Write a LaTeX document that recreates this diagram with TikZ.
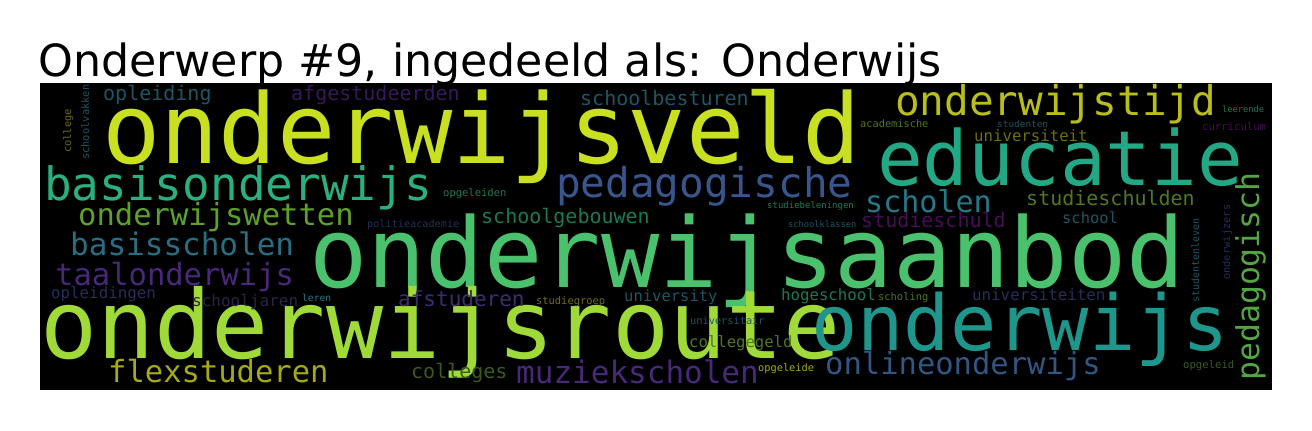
\documentclass[tikz,border=0pt]{standalone}
\usepackage{fontspec}
\setmainfont{DejaVu Sans}
\newfontfamily\cloudfont{DejaVu Sans Mono}
\usepackage{tikz}

% viridis-like word colours
\definecolor{vYellow}{RGB}{200,224,32}
\definecolor{vLime}{RGB}{160,218,57}
\definecolor{vGreen}{RGB}{74,193,109}
\definecolor{vJade}{RGB}{42,176,127}
\definecolor{vSea}{RGB}{34,168,132}
\definecolor{vTeal}{RGB}{31,150,139}
\definecolor{vBlue}{RGB}{57,86,140}
\definecolor{vOlive}{RGB}{185,190,25}
\definecolor{vLeaf}{RGB}{82,165,65}
\definecolor{vPetrol}{RGB}{36,120,135}
\definecolor{vGrass}{RGB}{95,160,40}
\definecolor{vDeep}{RGB}{40,110,130}
\definecolor{vPurple}{RGB}{72,40,120}
\definecolor{vMustard}{RGB}{165,170,20}
\definecolor{vNavy}{RGB}{50,85,130}
\definecolor{vMoss}{RGB}{80,120,30}
\definecolor{vPlum}{RGB}{70,15,85}
\definecolor{vKhaki}{RGB}{110,110,20}
\definecolor{vDusk}{RGB}{30,85,100}
\definecolor{vViolet}{RGB}{55,25,90}
\definecolor{vPine}{RGB}{25,120,90}
\definecolor{vIndigo}{RGB}{60,45,110}
\definecolor{vFern}{RGB}{60,90,30}
\definecolor{vSlate}{RGB}{40,45,90}
\definecolor{vShade}{RGB}{45,35,70}

\begin{document}
\begin{tikzpicture}[
    x=1pt, y=-1pt, % one unit per pixel, y running downwards
    cloudword/.style={
        anchor=base west, % words sit on their baseline
        inner sep=0pt,
        font=\cloudfont\fontsize{#1pt}{#1pt}\selectfont % monospaced cloud font
    },
    upword/.style={cloudword=#1, rotate=90}, % words reading bottom to top
    plottitle/.style={anchor=base west, inner sep=0pt, font=\fontsize{44.3pt}{44.3pt}\selectfont}
]
\useasboundingbox (0,0) rectangle (1312,431);
\fill[white] (0,0) rectangle (1312,431);

\node[plottitle] (title) at (38,76) {Onderwerp \#9, ingedeeld als: Onderwijs};
\fill[black] (40,83) rectangle (1272,390);

% largest words
\node[cloudword=97, text=vYellow] (onderwijsveld) at (102,163) {onderwijsveld};
\node[cloudword=97, text=vGreen] (onderwijsaanbod) at (309,287) {onderwijsaanbod};
\node[cloudword=95, text=vLime] (onderwijsroute) at (40,358) {onderwijsroute};
\node[cloudword=76, text=vSea] (educatie) at (877,185) {educatie};
\node[cloudword=77, text=vTeal] (onderwijs) at (811,350) {onderwijs};

% medium words
\node[cloudword=46, text=vJade] (basisonderwijs) at (44,200) {basisonderwijs};
\node[cloudword=41, text=vBlue] (pedagogische) at (556,197) {pedagogische};
\node[cloudword=41, text=vOlive] (onderwijstijd) at (895,115) {onderwijstijd};
\node[upword=31.5, text=vLeaf] (pedagogisch) at (1259,381) {pedagogisch};
\node[cloudword=30, text=vPetrol] (scholen) at (865,212) {scholen};
\node[cloudword=30.5, text=vGrass] (onderwijswetten) at (78,225) {onderwijswetten};
\node[cloudword=31, text=vDeep] (basisscholen) at (70,255) {basisscholen};
\node[cloudword=30.5, text=vPurple] (taalonderwijs) at (55,285) {taalonderwijs};
\node[cloudword=30.5, text=vMustard] (flexstuderen) at (108,382) {flexstuderen};
\node[cloudword=31, text=vPurple] (muziekscholen) at (516,383) {muziekscholen};
\node[cloudword=30.5, text=vNavy] (onlineonderwijs) at (825,374) {onlineonderwijs};

% smaller words
\node[cloudword=20, text=vMoss] (studieschulden) at (1026,205) {studieschulden};
\node[cloudword=20, text=vPlum] (studieschuld) at (861,227) {studieschuld};
\node[cloudword=20, text=vDusk] (schoolbesturen) at (580,105) {schoolbesturen};
\node[cloudword=20, text=vDusk] (opleiding) at (103,100) {opleiding};
\node[cloudword=20, text=vViolet] (afgestudeerden) at (291,100) {afgestudeerden};
\node[cloudword=20, text=vPine] (schoolgebouwen) at (481,223) {schoolgebouwen};
\node[cloudword=21, text=vIndigo] (afstuderen) at (398,306) {afstuderen};
\node[cloudword=20, text=vFern] (colleges) at (411,378) {colleges};
\node[cloudword=15.7, text=vKhaki] (universiteit) at (974,141) {universiteit};
\node[cloudword=15.5, text=vDusk] (university) at (624,301) {university};
\node[cloudword=15.8, text=vSlate] (opleidingen) at (51,298) {opleidingen};
\node[cloudword=16, text=vShade] (schooljaren) at (192,306) {schooljaren};
\node[cloudword=15.4, text=vDusk] (school) at (1062,223) {school};
\node[cloudword=15.7, text=vPine] (hogeschool) at (781,300) {hogeschool};
\node[cloudword=15.8, text=vSlate] (universiteiten) at (972,300) {universiteiten};
\node[cloudword=15.6, text=vMoss] (collegegeld) at (689,347) {collegegeld};

% tiny words
\node[cloudword=10.4, text=vKhaki] (studiegroep) at (536,304) {studiegroep};
\node[cloudword=10.2, text=vSlate] (politieacademie) at (367,227) {politieacademie};
\node[cloudword=9, text=vPine] (studiebeleningen) at (767,208) {studiebeleningen};
\node[cloudword=8.7, text=vDusk] (schoolklassen) at (788,227) {schoolklassen};
\node[cloudword=10.5, text=vPine] (opgeleiden) at (443,196) {opgeleiden};
\node[cloudword=10.3, text=vMoss] (academische) at (860,127) {academische};
\node[cloudword=9.4, text=vDusk] (studenten) at (997,127) {studenten};
\node[cloudword=8.7, text=vPine] (leerende) at (1222,112) {leerende};
\node[cloudword=10.6, text=vPlum] (curriculum) at (1202,130) {curriculum};
\node[cloudword=10.4, text=vMoss] (scholing) at (878,300) {scholing};
\node[cloudword=10.3, text=vDusk] (universitair) at (690,324) {universitair};
\node[cloudword=10.3, text=vMustard] (opgeleide) at (758,371) {opgeleide};
\node[cloudword=10.6, text=vFern] (opgeleid) at (1183,368) {opgeleid};
\node[cloudword=9.6, text=vPetrol] (leren) at (302,301) {leren};
\node[upword=10.3, text=vKhaki] (college) at (71,153) {college};
\node[upword=10.4, text=vDusk] (schoolvakken) at (89,160) {schoolvakken};
\node[upword=10, text=vDusk] (studentenleven) at (1199,303) {studentenleven};
\node[upword=10.4, text=vSlate] (onderwijzers) at (1230,280) {onderwijzers};
\end{tikzpicture}
\end{document}
